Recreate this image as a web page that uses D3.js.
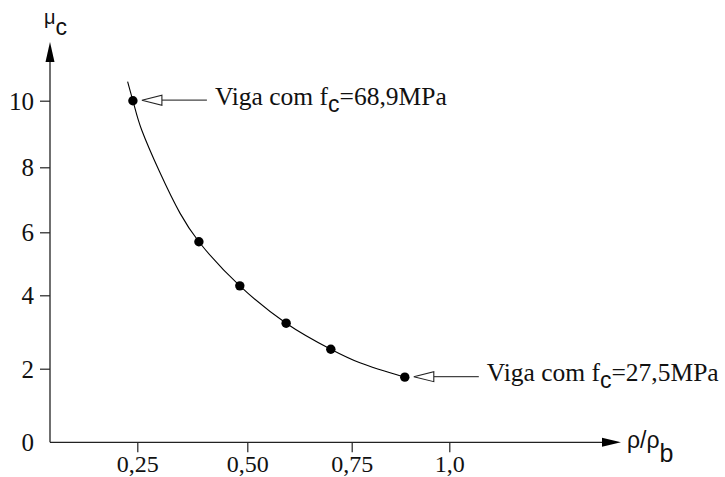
<!DOCTYPE html>
<html>
<head>
<meta charset="utf-8">
<script src="https://cdn.jsdelivr.net/npm/d3@7"></script>
<style>
  body { margin: 0; background: #fff; }
  .axis text { font-family: 'Liberation Serif', 'Times New Roman', serif; }
</style>
</head>
<body>
<div class="chart"></div>
<script>
var svgWidth = 725;
var svgHeight = 477;

// measured beams (rho/rho_b, mu_c)
var rhoValues = [0.24, 0.39, 0.483, 0.593, 0.70, 0.886];
var muValues = [10.0, 5.70, 4.30, 3.24, 2.53, 1.77];

// the hand drawn curve
var curveRho = [0.228, 0.24, 0.26, 0.347, 0.39, 0.483, 0.593, 0.70, 0.771, 0.886];
var curveMu = [10.57, 10.0, 9.12, 6.59, 5.70, 4.30, 3.24, 2.53, 2.16, 1.77];

var xTicks = [0.25, 0.50, 0.75, 1.0];
var xTickLabels = ["0,25", "0,50", "0,75", "1,0"];
var yTicks = [0, 2, 4, 6, 8, 10];
var yTickLabels = ["0", "2", "4", "6", "8", "10"];

// which points get a note, and the concrete strength in the note
var notePoints = [0, 5];
var noteFc = ["68,9", "27,5"];

var serif = "'Liberation Serif', 'Times New Roman', serif";
var sans = "'Liberation Sans', Arial, sans-serif";
var axisColor = "#222";

var svg = d3.select(".chart")
  .append("svg")
  .attr("width", svgWidth)
  .attr("height", svgHeight);

svg.append("rect")
  .attr("width", svgWidth)
  .attr("height", svgHeight)
  .attr("fill", "#fff");

// the drawing isn't evenly spaced, so the scales pass through every tick
var x = d3.scaleLinear()
  .domain(xTicks)
  .range([137.3, 247.3, 351.7, 449.3]);

var y = d3.scaleLinear()
  .domain(yTicks)
  .range([442.3, 368.7, 295.3, 232.3, 167.3, 100.7]);

var originX = 50;
var xAxisEnd = 621;
var yAxisTop = 42;

//-------- Axes -------------------------
var leftAxis = d3.axisLeft(y)
  .tickValues(yTicks)
  .tickSize(10)
  .tickPadding(6)
  .tickFormat((d, i) => yTickLabels[i]);

var yAxis = svg.append("g")
  .attr("class", "axis")
  .attr("transform", `translate(${originX}, 0)`)
  .call(leftAxis)
  .attr("font-family", serif)
  .attr("font-size", 25);

yAxis.select(".domain").remove();
yAxis.selectAll(".tick").filter(d => d === 0).select("line").remove();
yAxis.selectAll(".tick line").attr("stroke", axisColor).attr("stroke-width", 1.2);
yAxis.selectAll("text")
  .attr("dy", "0.34em")
  .attr("fill", "#111")
  .style("font-size", "25px");

var bottomAxis = d3.axisBottom(x)
  .tickValues(xTicks)
  .tickSize(10)
  .tickPadding(3)
  .tickFormat((d, i) => xTickLabels[i]);

var xAxis = svg.append("g")
  .attr("class", "axis")
  .attr("transform", `translate(0, ${y(0)})`)
  .call(bottomAxis)
  .attr("font-family", serif)
  .attr("font-size", 24);

xAxis.select(".domain").remove();
xAxis.selectAll(".tick line").attr("stroke", axisColor).attr("stroke-width", 1.2);
xAxis.selectAll("text")
  .attr("fill", "#111")
  .style("font-size", "24px");

// axis lines with filled arrow heads
svg.append("line")
  .attr("x1", originX).attr("y1", y(0))
  .attr("x2", xAxisEnd - 18).attr("y2", y(0))
  .attr("stroke", axisColor).attr("stroke-width", 1.3);

svg.append("path")
  .attr("d", `M${xAxisEnd},${y(0)} L${xAxisEnd - 19},${y(0) - 4.5} L${xAxisEnd - 19},${y(0) + 4.5} Z`)
  .attr("fill", "#000");

svg.append("line")
  .attr("x1", originX).attr("y1", y(0))
  .attr("x2", originX).attr("y2", yAxisTop + 18)
  .attr("stroke", axisColor).attr("stroke-width", 1.3);

svg.append("path")
  .attr("d", `M${originX},${yAxisTop} L${originX - 4.5},${yAxisTop + 20} L${originX + 4.5},${yAxisTop + 20} Z`)
  .attr("fill", "#000");

// axis titles
var muLabel = svg.append("text")
  .attr("x", 44)
  .attr("y", 24)
  .attr("fill", "#111")
  .style("font-family", sans);
muLabel.append("tspan").style("font-size", "20px").text("μ");
muLabel.append("tspan").attr("dy", 11).style("font-size", "23px").text("c");

var rhoLabel = svg.append("text")
  .attr("x", 627)
  .attr("y", 448)
  .attr("fill", "#111")
  .style("font-family", sans);
rhoLabel.append("tspan").style("font-size", "23px").text("ρ/ρ");
rhoLabel.append("tspan").attr("dy", 14).style("font-size", "25px").text("b");

//-------- Curve and points -------------------------
var line = d3.line()
  .x(i => x(curveRho[i]))
  .y(i => y(curveMu[i]))
  .curve(d3.curveCatmullRom.alpha(0.5));

svg.append("path")
  .attr("d", line(d3.range(curveRho.length)))
  .attr("fill", "none")
  .attr("stroke", "#000")
  .attr("stroke-width", 1.1);

svg.selectAll("circle.point")
  .data(d3.range(rhoValues.length))
  .enter()
  .append("circle")
  .attr("class", "point")
  .attr("cx", i => x(rhoValues[i]))
  .attr("cy", i => y(muValues[i]))
  .attr("r", 4.7)
  .attr("fill", "#000");

//-------- Notes with hollow arrows -------------------------
notePoints.forEach((p, k) => {
  var px = x(rhoValues[p]);
  var py = y(muValues[p]);

  svg.append("line")
    .attr("x1", px + 29).attr("y1", py - 0.5)
    .attr("x2", px + 74).attr("y2", py - 0.5)
    .attr("stroke", "#444").attr("stroke-width", 1.2);

  svg.append("path")
    .attr("d", `M${px + 9},${py - 0.5} L${px + 29},${py - 5.5} L${px + 29},${py + 4.5} Z`)
    .attr("fill", "#fff")
    .attr("stroke", "#222")
    .attr("stroke-width", 1.1);

  var note = svg.append("text")
    .attr("x", px + 82)
    .attr("y", py + 4)
    .attr("fill", "#111")
    .style("font-family", serif)
    .style("font-size", "25.5px");
  note.append("tspan").text("Viga com f");
  note.append("tspan")
    .attr("dy", 7)
    .style("font-family", sans)
    .style("font-size", "23px")
    .text("c");
  note.append("tspan").attr("dy", -7).text(`=${noteFc[k]}MPa`);
});
</script>
</body>
</html>
